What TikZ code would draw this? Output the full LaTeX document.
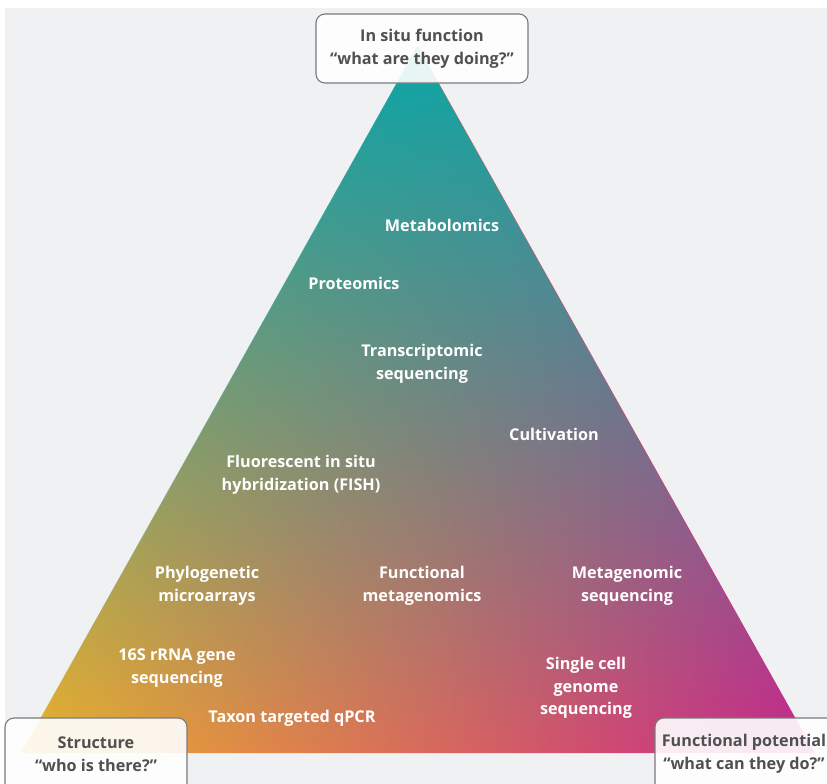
\documentclass[tikz,border=0pt]{standalone}
\usepackage{fontspec}
\setmainfont{Open Sans}
\usetikzlibrary{fadings}
\definecolor{bggray}{HTML}{F0F1F3}
\definecolor{tealc}{HTML}{0AA6A6}
\definecolor{yelc}{HTML}{ECB22A}
\definecolor{salc}{HTML}{EF8A68}
\definecolor{magc}{HTML}{C8258C}
\definecolor{boxtxt}{HTML}{505050}
\definecolor{boxline}{HTML}{7A7A7A}
\tikzfading[name=tealfade, top color=transparent!0, middle color=transparent!42, bottom color=transparent!100]
\tikzfading[name=glowfade, top color=transparent!100, middle color=transparent!0, bottom color=transparent!100]
\tikzset{
  lab/.style={text=white, font=\bfseries\fontsize{16.2}{22.5}\selectfont, align=center, inner sep=0pt},
  boxshape/.style={draw=boxline, line width=1.1pt, rounded corners=9pt, fill=white, fill opacity=0.9},
  boxtext/.style={text=boxtxt, font=\bfseries\fontsize{16.2}{23}\selectfont, align=center, inner sep=0pt}
}
\begin{document}
\begin{tikzpicture}[x=1pt,y=-1pt]
\useasboundingbox (0,0) rectangle (827,784);
\clip (0,0) rectangle (827,784);
\fill[bggray] (5,8) rectangle (827,784);
% triangle
\coordinate (apex) at (418,46);
\coordinate (bl) at (21,753);
\coordinate (br) at (815,753);
\shade[left color=yelc, middle color=salc, right color=magc] (apex) -- (bl) -- (br) -- cycle;
\fill[tealc, path fading=tealfade] (apex) -- (bl) -- (br) -- cycle;
\fill[white, fill opacity=0.24, path fading=glowfade] (apex) -- (bl) -- (br) -- cycle;
% labels
\node[lab] (metab) at (442,225) {Metabolomics};
\node[lab] (prot) at (354,283) {Proteomics};
\node[lab] (trans) at (422,364) {Transcriptomic\\sequencing};
\node[lab] (cult) at (554,434) {Cultivation};
\node[lab] (fish) at (301,475) {Fluorescent in situ\\hybridization (FISH)};
\node[lab] (phylo) at (207,586) {Phylogenetic\\microarrays};
\node[lab] (funcm) at (422,586) {Functional\\metagenomics};
\node[lab] (metag) at (627,586) {Metagenomic\\sequencing};
\node[lab] (s16) at (177,668) {16S rRNA gene\\sequencing};
\node[lab] (single) at (586,688) {Single cell\\genome\\sequencing};
\node[lab] (qpcr) at (292,718) {Taxon targeted qPCR};
% boxes
\draw[boxshape] (316,14) rectangle (528,83);
\node[boxtext] (top) at (422,49) {In situ function\\“what are they doing?”};
\draw[boxshape] (5,718) rectangle (187,810);
\node[boxtext] (struct) at (96,754) {Structure\\“who is there?”};
\draw[boxshape] (655,718) rectangle (860,810);
\node[boxtext] (funcp) at (744,754) {Functional potential\\“what can they do?”};
\end{tikzpicture}
\end{document}
